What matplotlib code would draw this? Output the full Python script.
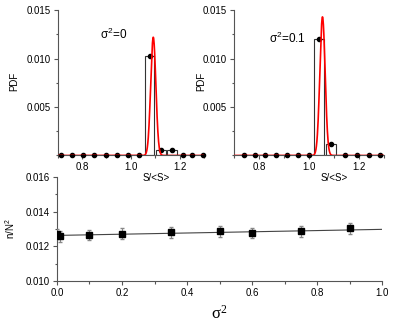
import numpy as np
import matplotlib.pyplot as plt
from matplotlib.ticker import MultipleLocator

plt.rcParams['font.family'] = ['Liberation Sans', 'DejaVu Sans']
plt.rcParams['font.size'] = 7

# top-left panel, sigma^2 = 0
s0_centers = [0.716, 0.761, 0.806, 0.851, 0.896, 0.942, 0.987, 1.032,
              1.077, 1.122, 1.168, 1.213, 1.25, 1.294]
s0_pdf = [0, 0, 0, 0, 0, 0, 0, 0, 0.0103, 0.0006, 0.0006, 0, 0, 0]
s0_fit = dict(mean=1.091, sigma=0.0105, amp=0.0122)

# top-right panel, sigma^2 = 0.1
s1_centers = [0.739, 0.783, 0.825, 0.869, 0.912, 0.956, 0.999,
              1.04, 1.088, 1.145, 1.192, 1.239, 1.283]
s1_pdf = [0, 0, 0, 0, 0, 0, 0, 0.01206, 0.0012, 0, 0, 0, 0]
s1_fit = dict(mean=1.054, sigma=0.0105, amp=0.0143)

# bottom panel
sig2 = [0.0, 0.01, 0.1, 0.2, 0.35, 0.5, 0.6, 0.75, 0.9]
n_N2 = [0.0127, 0.01257, 0.01266, 0.01274, 0.01280, 0.01286, 0.01276, 0.01286, 0.01304]
n_err = [0.0003] * len(sig2)
line_x = [0.0, 1.0]
line_y = [0.01263, 0.01298]

fig = plt.figure(figsize=(3.95, 3.23), dpi=100)
ax3 = fig.add_axes([0.1443, 0.130, 0.8228, 0.322])
ax1 = fig.add_axes([0.1456, 0.5186, 0.372, 0.4504])
ax2 = fig.add_axes([0.5924, 0.5186, 0.3797, 0.4504])
ax3.set_facecolor('none')


def style(ax):
    for side in ['top', 'right']:
        ax.spines[side].set_visible(False)
    for side in ['left', 'bottom']:
        ax.spines[side].set_color('#555555')
        ax.spines[side].set_linewidth(0.8)
    ax.tick_params(which='both', direction='out', color='#555555', width=0.8)
    ax.tick_params(which='major', length=3, pad=2)
    ax.tick_params(which='minor', length=1.8)


def histo_panel(ax, centers, pdf, fit, label, label_xy, ylab_x):
    ax.bar(centers, pdf, width=0.038, facecolor='white', edgecolor='#333333',
           linewidth=0.8, zorder=2)
    xs = np.linspace(0.7, 1.3, 600)
    ys = fit['amp'] * np.exp(-0.5 * ((xs - fit['mean']) / fit['sigma']) ** 2)
    ax.plot(centers, pdf, 'o', color='black', ms=3, zorder=3, clip_on=False)
    ax.plot(xs, ys, color='red', lw=1.2, zorder=4)
    ax.set_xlim(0.7, 1.3)
    ax.set_ylim(0, 0.015)
    ax.set_xticks([0.8, 1.0, 1.2])
    ax.xaxis.set_minor_locator(MultipleLocator(0.1))
    ax.set_yticks([0.005, 0.010, 0.015])
    ax.yaxis.set_minor_locator(MultipleLocator(0.0025))
    ax.yaxis.set_major_formatter(plt.FormatStrFormatter('%.3f'))
    ax.set_xlabel('S/<S>')
    ax.xaxis.set_label_coords(0.67, -0.118)
    ax.set_ylabel('PDF')
    ax.yaxis.set_label_coords(ylab_x, 0.51)
    ax.text(label_xy[0], label_xy[1], label, fontsize=8.5, ha='left', va='center')
    style(ax)


histo_panel(ax1, s0_centers, s0_pdf, s0_fit, r'$\mathregular{\sigma^2}$=0',
            (0.872, 0.0125), -0.262)
histo_panel(ax2, s1_centers, s1_pdf, s1_fit, r'$\mathregular{\sigma^2}$=0.1',
            (0.84, 0.0121), -0.187)

ax3.plot(line_x, line_y, color='#444444', lw=0.8, zorder=2)
ax3.errorbar(sig2, n_N2, yerr=n_err, fmt='s', color='black', ms=5,
             ecolor='#888888', elinewidth=0.8, capsize=1.5, zorder=3)
ax3.set_xlim(0, 1.0)
ax3.set_ylim(0.010, 0.016)
ax3.set_xticks([0.0, 0.2, 0.4, 0.6, 0.8, 1.0])
ax3.xaxis.set_minor_locator(MultipleLocator(0.1))
ax3.set_yticks([0.010, 0.012, 0.014, 0.016])
ax3.yaxis.set_minor_locator(MultipleLocator(0.001))
ax3.yaxis.set_major_formatter(plt.FormatStrFormatter('%.3f'))
ax3.set_xlabel(r'$\mathregular{\sigma^2}$', fontsize=12, family='Liberation Serif')
ax3.xaxis.set_label_coords(0.5, -0.225)
ax3.set_ylabel(r'n/N$^\mathregular{2}$')
ax3.yaxis.set_label_coords(-0.123, 0.5)
style(ax3)

fig.savefig('out.png', dpi=100)
